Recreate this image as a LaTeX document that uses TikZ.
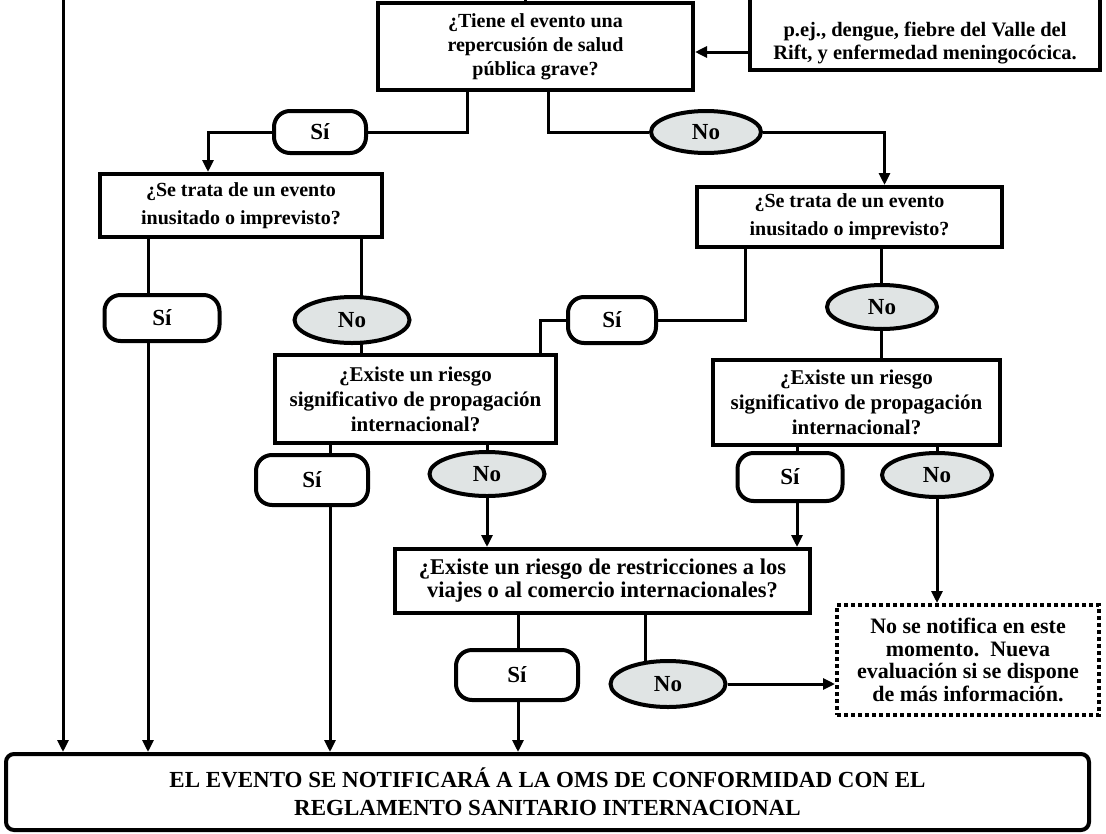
\documentclass[tikz,border=0pt]{standalone}
\usepackage{fontspec}
\setmainfont{Liberation Serif}
\usetikzlibrary{arrows.meta,backgrounds,shapes.geometric}
\definecolor{ovalgray}{RGB}{224,228,228}
\begin{document}
\begin{tikzpicture}[x=1pt,y=-1pt,
  every node/.style={font=\bfseries\fontsize{21}{25}\selectfont, align=center, inner sep=0pt},
  qbox/.style={draw, line width=4pt, fill=white, rectangle},
  pill/.style={draw, line width=4pt, fill=white, rectangle, rounded corners=16pt, font=\bfseries\fontsize{23}{25}\selectfont},
  oval/.style={draw, line width=4pt, fill=ovalgray, ellipse, font=\bfseries\fontsize{23}{25}\selectfont},
  dotbox/.style={draw, line width=4pt, dash pattern=on 4pt off 3pt, fill=white, rectangle},
  conn/.style={line width=3pt},
  arr/.style={conn, -{Triangle[length=12pt,width=11pt]}},
  fA/.style={font=\bfseries\fontsize{20}{24}\selectfont},
  fB/.style={font=\bfseries\fontsize{20}{28}\selectfont},
  fC/.style={font=\bfseries\fontsize{21}{25}\selectfont},
]
\useasboundingbox (0,0) rectangle (1106,833);

% nodes
\node[qbox, fA, minimum width=315pt, minimum height=87pt] (top) at (535.5,46.5) {¿Tiene el evento una\\repercusión de salud\\pública grave?};
\node[qbox, minimum width=350pt, minimum height=120pt] (rb) at (925,10) {};
\node[font=\bfseries\fontsize{20.5}{23}\selectfont] (rbt) at (925,43.5) {p.ej., dengue, fiebre del Valle del\\Rift, y enfermedad meningocócica.};
\node[pill, minimum width=92pt, minimum height=42pt] (pA) at (320,132) {Sí};
\node[oval, minimum width=110pt, minimum height=42pt] (oA) at (706,132) {No};
\node[qbox, fB, minimum width=282pt, minimum height=63pt] (q2) at (241,205.5) {¿Se trata de un evento\\inusitado o imprevisto?};
\node[qbox, fB, minimum width=305pt, minimum height=60pt] (q3) at (849.5,217) {¿Se trata de un evento\\inusitado o imprevisto?};
\node[pill, minimum width=115pt, minimum height=46pt] (pB) at (162,318) {Sí};
\node[oval, minimum width=115pt, minimum height=46pt] (oB) at (352,320) {No};
\node[pill, minimum width=88pt, minimum height=46pt] (pC) at (612,320) {Sí};
\node[oval, minimum width=110pt, minimum height=44pt] (oC) at (882,307) {No};
\node[qbox, fC, minimum width=281pt, minimum height=88pt] (q4) at (415.5,399) {¿Existe un riesgo\\significativo de propagación\\internacional?};
\node[qbox, fC, minimum width=287pt, minimum height=85pt] (q5) at (856.5,402.5) {¿Existe un riesgo\\significativo de propagación\\internacional?};
\node[pill, minimum width=112pt, minimum height=50pt] (pD) at (312,480) {Sí};
\node[oval, minimum width=115pt, minimum height=44pt] (oD) at (487,474) {No};
\node[pill, minimum width=105pt, minimum height=48pt] (pE) at (790,477) {Sí};
\node[oval, minimum width=110pt, minimum height=44pt] (oE) at (937,475) {No};
\node[qbox, font=\bfseries\fontsize{22.5}{23}\selectfont, minimum width=415pt, minimum height=64pt] (q6) at (602.5,581) {¿Existe un riesgo de restricciones a los\\viajes o al comercio internacionales?};
\node[pill, minimum width=122pt, minimum height=50pt] (pF) at (517,675) {Sí};
\node[oval, minimum width=115pt, minimum height=46pt] (oF) at (668,684) {No};
\node[dotbox, minimum width=262pt, minimum height=110pt, font=\bfseries\fontsize{22}{22.7}\selectfont] (nn) at (968,660) {No se notifica en este\\momento.\ \ Nueva\\evaluación si se dispone\\de más información.};
\node[pill, rounded corners=8pt, minimum width=1083pt, minimum height=76pt, font=\bfseries\fontsize{23}{28}\selectfont] (fin) at (547.5,792) {EL EVENTO SE NOTIFICARÁ A LA OMS DE CONFORMIDAD CON EL\\REGLAMENTO SANITARIO INTERNACIONAL};

% connectors
\begin{scope}[on background layer]
\fill[white] (0,0) rectangle (1106,833);
\coordinate (yA) at (0,52);
\draw[arr] (rb.west |- yA) -- (top.east |- yA);
\coordinate (L) at (63,-5);
\draw[arr] (L) -- (L |- fin.north);
\coordinate (T) at (525,-5);
\draw[conn] (T) -- (T |- top.north);
\draw[conn] ([xshift=-68pt]top.south) |- (pA);
\draw[arr] (pA) -| ([xshift=-33pt]q2.north);
\draw[conn] ([xshift=13pt]top.south) |- (oA);
\draw[arr] (oA) -| ([xshift=35pt]q3.north);
% q2 branches
\coordinate (xB) at ([xshift=-93pt]q2.south);
\draw[conn] (xB) -- (xB |- pB.center);
\draw[arr] (xB |- pB.center) -- (xB |- fin.north);
\coordinate (xBo) at ([xshift=120pt]q2.south);
\draw[conn] (xBo) -- (xBo |- oB.center);
\draw[conn] (xBo |- oB.center) -- (xBo |- q4.north);
% q3 branches
\coordinate (xC) at ([xshift=-104pt]q3.south);
\draw[conn] (xC) |- (pC);
\draw[conn] (pC) -| ([xshift=125pt]q4.north);
\coordinate (xCo) at ([xshift=32pt]q3.south);
\draw[conn] (xCo) -- (xCo |- oC.center);
\draw[conn] (xCo |- oC.center) -- (xCo |- q5.north);
% q4 branches
\coordinate (xD) at ([xshift=-85.5pt]q4.south);
\draw[conn] (xD) -- (xD |- pD.center);
\draw[arr] (xD |- pD.center) -- (xD |- fin.north);
\coordinate (xDo) at ([xshift=71.5pt]q4.south);
\draw[conn] (xDo) -- (xDo |- oD.center);
\draw[arr] (xDo |- oD.center) -- (xDo |- q6.north);
% q5 branches
\coordinate (xE) at ([xshift=-59.5pt]q5.south);
\draw[conn] (xE) -- (xE |- pE.center);
\draw[arr] (xE |- pE.center) -- (xE |- q6.north);
\coordinate (xEo) at ([xshift=80.5pt]q5.south);
\draw[conn] (xEo) -- (xEo |- oE.center);
\draw[arr] (xEo |- oE.center) -- (xEo |- nn.north);
% q6 branches
\coordinate (xF) at ([xshift=-84.5pt]q6.south);
\draw[conn] (xF) -- (xF |- pF.center);
\draw[arr] (xF |- pF.center) -- (xF |- fin.north);
\coordinate (xFo) at ([xshift=42.5pt]q6.south);
\draw[conn] (xFo) -- (xFo |- oF.center);
\draw[arr] (oF) -- (oF -| nn.west);
\end{scope}
\end{tikzpicture}
\end{document}
